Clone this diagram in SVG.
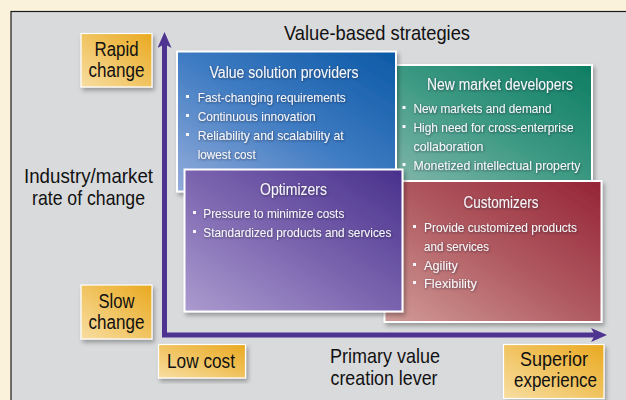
<svg xmlns="http://www.w3.org/2000/svg" width="626" height="400" viewBox="0 0 626 400">
<defs>
<style>
text{font-family:"Liberation Sans Narrow","Liberation Sans",Arial,sans-serif}
.dark{fill:#111;font-size:21px;text-anchor:middle}
.lab{fill:#111;font-size:19.5px;text-anchor:middle}
.head{fill:#f6f6fa;font-size:16px;text-anchor:middle;filter:url(#ts)}
.bul{fill:#f6f6fa;font-size:13.5px;filter:url(#ts)}
.sq{fill:#f6f6fa}
.card{stroke:#fff;stroke-width:2;filter:url(#ds)}
.gold{fill:url(#gGold);stroke:#fff;stroke-width:1.2;filter:url(#ds)}
.axis{fill:none;stroke:#4e3490;stroke-width:5;marker-start:url(#ah);marker-end:url(#ah)}
</style>
<filter id="ds" x="-10%" y="-10%" width="125%" height="125%"><feDropShadow dx="2" dy="3" stdDeviation="2" flood-color="#000" flood-opacity="0.3"/></filter>
<filter id="ts" x="-10%" y="-30%" width="120%" height="160%"><feDropShadow dx="0.6" dy="0.8" stdDeviation="0.9" flood-color="#1a1a2a" flood-opacity="0.6"/></filter>
<linearGradient id="gGold" x1="0" y1="1" x2="1" y2="0"><stop offset="0" stop-color="#f8dea2"/><stop offset="1" stop-color="#e9a91f"/></linearGradient>
<linearGradient id="gBlue" x1="0" y1="1" x2="1" y2="0"><stop offset="0" stop-color="#94addb"/><stop offset="0.5" stop-color="#3e7bc2"/><stop offset="1" stop-color="#0c59a6"/></linearGradient>
<linearGradient id="gGreen" x1="0" y1="1" x2="1" y2="0"><stop offset="0" stop-color="#86b9ad"/><stop offset="0.5" stop-color="#3c9983"/><stop offset="1" stop-color="#0d7d62"/></linearGradient>
<linearGradient id="gPurple" x1="0" y1="1" x2="1" y2="0"><stop offset="0" stop-color="#ab9bcf"/><stop offset="0.5" stop-color="#7a63ae"/><stop offset="1" stop-color="#48308c"/></linearGradient>
<linearGradient id="gRed" x1="0" y1="1" x2="1" y2="0"><stop offset="0" stop-color="#d19c98"/><stop offset="0.5" stop-color="#b05a60"/><stop offset="1" stop-color="#952436"/></linearGradient>
<marker id="ah" viewBox="0 0 16 14" refX="4" refY="7" markerWidth="16" markerHeight="14" markerUnits="userSpaceOnUse" orient="auto-start-reverse"><path d="M0,0 L16,7 L0,14 L4,7 z" fill="#4e3490"/></marker>
</defs>
<rect x="0" y="0" width="626" height="400" fill="#fbf2dc"/>
<rect x="11" y="11.5" width="630" height="400" fill="#d9dadc" stroke="#1a1a1a" stroke-width="1.2"/>

<text class="dark" x="377" y="40" textLength="186" lengthAdjust="spacingAndGlyphs">Value-based strategies</text>

<g id="axes">
<path class="axis" d="M164.5,44 V335 H595"/>
</g>

<g id="label-rate">
<text class="dark" x="88.5" y="183" textLength="129" lengthAdjust="spacingAndGlyphs">Industry/market</text>
<text class="dark" x="88.5" y="205" textLength="113" lengthAdjust="spacingAndGlyphs">rate of change</text>
</g>
<g id="label-lever">
<text class="dark" x="385" y="363" textLength="110" lengthAdjust="spacingAndGlyphs">Primary value</text>
<text class="dark" x="384" y="385" textLength="107" lengthAdjust="spacingAndGlyphs">creation lever</text>
</g>

<g id="rapid">
<rect class="gold" x="81" y="33.5" width="71" height="53.5"/>
<text class="lab" x="116.5" y="56" textLength="44" lengthAdjust="spacingAndGlyphs">Rapid</text>
<text class="lab" x="116.5" y="77" textLength="56" lengthAdjust="spacingAndGlyphs">change</text>
</g>
<g id="slow">
<rect class="gold" x="81" y="285" width="71" height="54"/>
<text class="lab" x="116.5" y="308" textLength="36" lengthAdjust="spacingAndGlyphs">Slow</text>
<text class="lab" x="116.5" y="329" textLength="56" lengthAdjust="spacingAndGlyphs">change</text>
</g>
<g id="lowcost">
<rect class="gold" x="158.5" y="344.5" width="87" height="33.5"/>
<text class="dark" x="201" y="368" textLength="68" lengthAdjust="spacingAndGlyphs">Low cost</text>
</g>
<g id="superior">
<rect class="gold" x="503.5" y="344.5" width="100.5" height="54"/>
<text class="lab" x="554" y="365.5" textLength="68" lengthAdjust="spacingAndGlyphs">Superior</text>
<text class="lab" x="555.5" y="386.5" textLength="83" lengthAdjust="spacingAndGlyphs">experience</text>
</g>

<g id="new-market-developers">
<rect class="card" x="388" y="65" width="204" height="121" fill="url(#gGreen)"/>
<text class="head" x="500" y="90" textLength="146" lengthAdjust="spacingAndGlyphs">New market developers</text>
<rect class="sq" x="402.5" y="106" width="3" height="3"/>
<text class="bul" x="413.5" y="113.3" textLength="138" lengthAdjust="spacingAndGlyphs">New markets and demand</text>
<rect class="sq" x="402.5" y="125" width="3" height="3"/>
<text class="bul" x="413.5" y="132.3" textLength="160" lengthAdjust="spacingAndGlyphs">High need for cross-enterprise</text>
<text class="bul" x="413.5" y="150.7" textLength="70" lengthAdjust="spacingAndGlyphs">collaboration</text>
<rect class="sq" x="402.5" y="163" width="3" height="3"/>
<text class="bul" x="413.5" y="170" textLength="167" lengthAdjust="spacingAndGlyphs">Monetized intellectual property</text>
</g>

<g id="value-solution-providers">
<rect class="card" x="177" y="51.5" width="219" height="140" fill="url(#gBlue)"/>
<text class="head" x="284" y="78.3" textLength="149" lengthAdjust="spacingAndGlyphs">Value solution providers</text>
<rect class="sq" x="186" y="95" width="3" height="3"/>
<text class="bul" x="197.7" y="102.3" textLength="148" lengthAdjust="spacingAndGlyphs">Fast-changing requirements</text>
<rect class="sq" x="186" y="114" width="3" height="3"/>
<text class="bul" x="197.7" y="121.3" textLength="118" lengthAdjust="spacingAndGlyphs">Continuous innovation</text>
<rect class="sq" x="186" y="133" width="3" height="3"/>
<text class="bul" x="197.7" y="140" textLength="146" lengthAdjust="spacingAndGlyphs">Reliability and scalability at</text>
<text class="bul" x="197.7" y="158.5" textLength="58" lengthAdjust="spacingAndGlyphs">lowest cost</text>
</g>

<g id="customizers">
<rect class="card" x="384.5" y="181" width="217" height="141" fill="url(#gRed)"/>
<text class="head" x="501" y="208.3" textLength="75" lengthAdjust="spacingAndGlyphs">Customizers</text>
<rect class="sq" x="413" y="225" width="3" height="3"/>
<text class="bul" x="424" y="232.3" textLength="153" lengthAdjust="spacingAndGlyphs">Provide customized products</text>
<text class="bul" x="424" y="251" textLength="65" lengthAdjust="spacingAndGlyphs">and services</text>
<rect class="sq" x="413" y="263" width="3" height="3"/>
<text class="bul" x="424" y="270" textLength="34" lengthAdjust="spacingAndGlyphs">Agility</text>
<rect class="sq" x="413" y="281" width="3" height="3"/>
<text class="bul" x="424" y="288.3" textLength="53" lengthAdjust="spacingAndGlyphs">Flexibility</text>
</g>

<g id="optimizers">
<rect class="card" x="184.5" y="169.5" width="218" height="142" fill="url(#gPurple)"/>
<text class="head" x="293.5" y="195" textLength="67" lengthAdjust="spacingAndGlyphs">Optimizers</text>
<rect class="sq" x="193" y="211" width="3" height="3"/>
<text class="bul" x="203.3" y="218.3" textLength="141" lengthAdjust="spacingAndGlyphs">Pressure to minimize costs</text>
<rect class="sq" x="193" y="230" width="3" height="3"/>
<text class="bul" x="203.3" y="237.3" textLength="188" lengthAdjust="spacingAndGlyphs">Standardized products and services</text>
</g>
</svg>
